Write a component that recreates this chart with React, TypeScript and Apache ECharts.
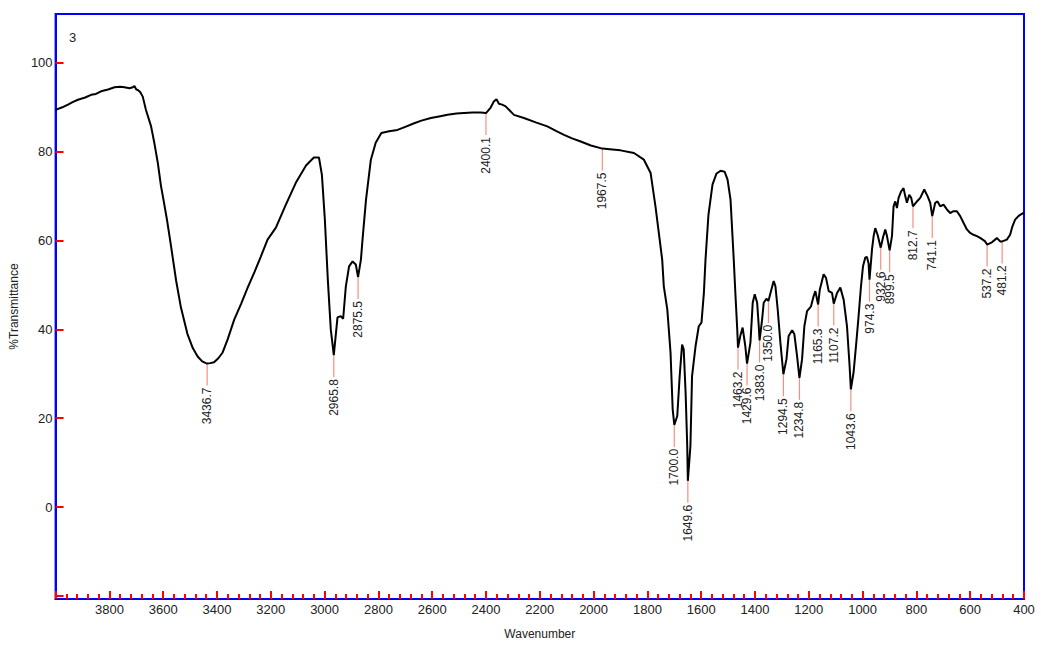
import React, { useEffect, useRef } from "react";
import * as echarts from "echarts";

// Spectrum trace (wavenumber, %T)
const wavenumbers = [
  4000, 3975, 3954, 3935, 3917, 3890, 3868, 3850, 3831, 3805, 3781, 3760, 3744, 3725, 3713, 3707, 3700, 3694, 3685, 3676,
  3664, 3645, 3633, 3620, 3608, 3599, 3586, 3571, 3552, 3534, 3510, 3490, 3472, 3455, 3441, 3436.7, 3425, 3411, 3395, 3379,
  3360, 3336, 3310, 3286, 3260, 3237, 3212, 3181, 3144, 3107, 3069, 3040, 3021, 3010, 2999, 2988, 2977, 2965.8, 2952, 2940,
  2931, 2921, 2909, 2896, 2884, 2875.5, 2865, 2859, 2846, 2828, 2810, 2789, 2760, 2729, 2700, 2667, 2640, 2605, 2570, 2543,
  2510, 2482, 2450, 2420, 2400.1, 2384, 2371, 2361, 2352, 2340, 2327, 2296, 2259, 2215, 2172, 2140, 2110, 2080, 2048, 2010,
  1967.5, 1930, 1900, 1850, 1813, 1788, 1770, 1745, 1739, 1726, 1714, 1706, 1700, 1689, 1680, 1671, 1665, 1658, 1652, 1649.6,
  1644, 1640, 1634, 1621, 1609, 1599, 1590, 1584, 1573, 1558, 1543, 1528, 1513, 1502, 1491, 1479, 1473, 1466, 1463.2, 1454,
  1446, 1436, 1429.6, 1417, 1408.5, 1401, 1392, 1386, 1383, 1373.6, 1367.6, 1357.6, 1350, 1339, 1330.5, 1324, 1315.6, 1305.6, 1294.5, 1283,
  1275, 1262, 1253.6, 1243.6, 1234.8, 1225, 1216.5, 1206.5, 1191.6, 1182, 1175.6, 1165.3, 1159, 1144.8, 1136, 1126, 1113.6, 1107.2, 1095, 1082.8,
  1070.5, 1058, 1048.3, 1043.6, 1033.4, 1023.4, 1014.9, 1006, 998.5, 990, 983.7, 977.7, 974.3, 965, 959, 953, 944.3, 932.6, 924.2, 915.7,
  909.4, 899.5, 890.8, 884.9, 878.6, 872.3, 866.3, 856.3, 847.8, 841.5, 835.2, 826.6, 819.2, 812.7, 798, 785.7, 770.8, 758.6, 748.6, 741.1,
  730, 721.5, 711.5, 699.2, 686.6, 674.3, 662, 649.4, 637.2, 624.9, 612.3, 600, 587.8, 575.2, 562.9, 544.4, 537.2, 519.5, 507.2, 500.9,
  488.7, 481.2, 463.8, 451.6, 443, 433, 420.7, 414.4, 402.2, 400,
];

const transmittance = [
  89.4, 90.0, 90.6, 91.2, 91.7, 92.2, 92.8, 93.0, 93.6, 94.0, 94.5, 94.6, 94.5, 94.3, 94.5, 94.8, 94.0, 93.9, 93.4, 92.4,
  89.4, 85.7, 82.0, 77.5, 72.2, 69.2, 64.7, 58.8, 51.0, 44.9, 39.0, 35.8, 33.9, 32.8, 32.4, 32.3, 32.4, 32.6, 33.5, 34.8,
  37.8, 42.2, 45.8, 49.4, 53.0, 56.4, 60.2, 62.9, 68.1, 73.0, 76.9, 78.7, 78.7, 74.8, 64.7, 51.2, 40.0, 34.2, 42.7, 43.0,
  42.4, 49.7, 54.2, 55.3, 54.6, 51.8, 55.7, 60.2, 69.2, 78.2, 82.0, 84.2, 84.6, 84.9, 85.6, 86.4, 87.0, 87.6, 88.0, 88.3,
  88.6, 88.7, 88.8, 88.8, 88.7, 89.8, 91.3, 91.8, 90.8, 90.6, 90.2, 88.3, 87.6, 86.6, 85.7, 84.7, 83.8, 83.0, 82.3, 81.4,
  80.7, 80.5, 80.3, 79.7, 78.2, 75.2, 67.7, 55.7, 49.7, 44.5, 34.8, 22.0, 18.5, 20.5, 29.5, 36.6, 35.5, 25.8, 14.0, 5.9,
  10.5, 13.8, 29.5, 36.2, 40.7, 41.5, 48.2, 55.7, 65.8, 72.6, 75.1, 75.7, 75.5, 73.7, 69.2, 55.7, 48.2, 40.0, 35.9, 38.7,
  40.4, 36.2, 32.3, 37.0, 46.0, 47.9, 46.0, 40.7, 37.5, 42.2, 46.0, 46.9, 46.4, 49.0, 50.9, 49.7, 44.5, 37.0, 29.9, 33.3,
  38.5, 39.8, 38.9, 34.0, 29.1, 33.3, 40.7, 44.1, 45.2, 47.5, 48.6, 45.6, 49.0, 52.4, 51.6, 48.6, 48.2, 45.8, 48.2, 49.4,
  46.7, 40.7, 31.7, 26.5, 30.4, 37.0, 43.0, 49.7, 54.2, 56.2, 56.3, 54.8, 51.2, 58.0, 61.0, 62.8, 61.3, 58.4, 60.7, 62.5,
  61.0, 57.8, 61.0, 67.7, 68.8, 67.3, 69.6, 71.1, 71.8, 70.0, 68.5, 70.3, 69.6, 67.7, 68.8, 69.6, 71.5, 70.0, 68.5, 65.5,
  68.5, 68.8, 67.7, 68.1, 67.0, 66.2, 66.6, 66.6, 65.5, 64.0, 62.5, 61.7, 61.3, 61.0, 60.6, 59.8, 59.1, 59.6, 60.2, 60.6,
  59.8, 59.8, 60.2, 61.3, 63.2, 64.7, 65.5, 65.8, 66.2, 66.4,
];

// Peak positions that carry labels
const peakWavenumbers = [
  3436.7, 2965.8, 2875.5, 2400.1, 1967.5, 1700.0, 1649.6, 1463.2, 1429.6, 1383.0, 1350.0, 1294.5,
  1234.8, 1165.3, 1107.2, 1043.6, 974.3, 932.6, 899.5, 812.7, 741.1, 537.2, 481.2,
];

const yTicks = [-20, 0, 20, 40, 60, 80, 100];
const yLabels = [0, 20, 40, 60, 80, 100];

const FONT = "'Liberation Sans', Arial, Helvetica, sans-serif";
const BLUE = "#0000ff";
const RED = "#ff0000";

export default function App() {
  const ref = useRef<HTMLDivElement>(null);

  useEffect(() => {
    if (!ref.current) return;
    document.body.style.margin = "0";
    const chart = echarts.init(ref.current, null, { renderer: "svg" });

    const curve = wavenumbers.map((w, i) => [w, transmittance[i]]);
    const peaks = peakWavenumbers.map((w) => {
      let best = 0;
      for (let i = 0; i < wavenumbers.length; i++) {
        if (Math.abs(wavenumbers[i] - w) < Math.abs(wavenumbers[best] - w)) best = i;
      }
      return [w, transmittance[best]];
    });

    chart.setOption({
      animation: false,
      backgroundColor: "#ffffff",
      textStyle: { fontFamily: FONT },
      grid: {
        left: 54,
        right: 17,
        top: 14,
        bottom: 45,
        show: true,
        borderColor: BLUE,
        borderWidth: 2,
        containLabel: false,
      },
      xAxis: {
        type: "value",
        inverse: true,
        min: 400,
        max: 4000,
        interval: 200,
        name: "Wavenumber",
        nameLocation: "middle",
        nameGap: 29,
        nameTextStyle: { color: "#222", fontSize: 12, fontFamily: FONT },
        axisLine: { show: true, onZero: false, lineStyle: { color: BLUE, width: 2 } },
        axisTick: { show: true, inside: true, length: 8, lineStyle: { color: RED, width: 2 } },
        minorTick: { show: true, splitNumber: 5, length: 5, lineStyle: { color: RED, width: 2 } },
        axisLabel: {
          color: "#222",
          fontSize: 13,
          fontFamily: FONT,
          margin: 4,
          formatter: (v: number) => (v === 4000 ? "" : String(v)),
        },
        splitLine: { show: false },
        minorSplitLine: { show: false },
      },
      yAxis: {
        type: "value",
        min: -20.7,
        max: 111,
        name: "%Transmittance",
        nameLocation: "middle",
        nameGap: 32,
        nameRotate: 90,
        nameTextStyle: { color: "#222", fontSize: 12, fontFamily: FONT },
        axisLine: { show: true, onZero: false, lineStyle: { color: BLUE, width: 2 } },
        axisTick: {
          show: true,
          inside: true,
          length: 8,
          customValues: yTicks,
          lineStyle: { color: RED, width: 2 },
        },
        axisLabel: {
          color: "#222",
          fontSize: 13,
          fontFamily: FONT,
          margin: 3,
          customValues: yLabels,
        },
        splitLine: { show: false },
      },
      graphic: [
        {
          type: "text",
          left: 69,
          top: 31,
          style: { text: "3", fill: "#222", fontSize: 13, fontFamily: FONT },
        },
      ],
      series: [
        {
          type: "custom",
          silent: true,
          z: 1,
          data: peaks,
          renderItem: (params: any, api: any) => {
            const p = api.coord([api.value(0), api.value(1)]);
            const label = peakWavenumbers[params.dataIndex].toFixed(1);
            return {
              type: "group",
              children: [
                {
                  type: "line",
                  shape: { x1: p[0], y1: p[1], x2: p[0], y2: p[1] + 22 },
                  style: { stroke: "#f4907f", lineWidth: 1.2 },
                },
                {
                  type: "text",
                  x: p[0],
                  y: p[1] + 24,
                  rotation: Math.PI / 2,
                  style: {
                    text: label,
                    fill: "#222",
                    fontSize: 12,
                    fontFamily: FONT,
                    align: "right",
                    verticalAlign: "middle",
                  },
                },
              ],
            };
          },
        },
        {
          type: "line",
          data: curve,
          showSymbol: false,
          symbol: "none",
          z: 2,
          lineStyle: { color: "#000000", width: 2 },
          silent: true,
        },
      ],
    });

    return () => chart.dispose();
  }, []);

  return (
    <div
      ref={ref}
      style={{ position: "fixed", left: 0, top: 0, width: 1041, height: 645 }}
    />
  );
}
